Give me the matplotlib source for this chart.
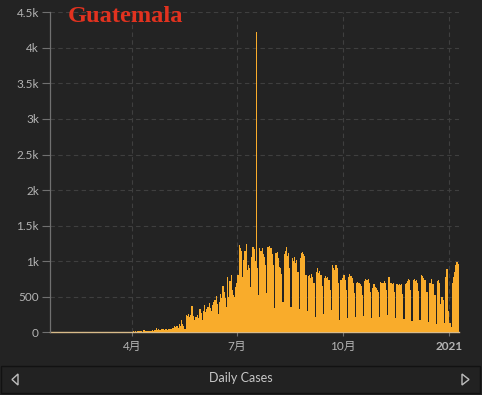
import matplotlib
matplotlib.use('Agg')
import matplotlib.pyplot as plt
import matplotlib.dates as mdates
from matplotlib.patches import Polygon, Rectangle
import pandas as pd

# ---------------- data (daily new cases, Guatemala) ----------------
START = '2020-03-13'
mar = [1, 0, 4, 2, 1, 2, 3, 4, 3, 5, 2, 4, 4, 3, 2, 5, 2, 4, 2]
apr = [11, 14, 11, 14, 9, 17, 18, 24, 16, 11, 26, 30, 17, 20, 25, 17, 15, 22, 32, 18,
       27, 66, 35, 43, 30, 28, 45, 40, 38, 41]
may = [45, 38, 52, 40, 48, 60, 55, 84, 70, 90, 62, 110, 95, 178, 120, 88, 40, 250, 235, 260,
       220, 240, 370, 230, 180, 210, 215, 240, 200, 333, 270]
jun = [180, 300, 390, 280, 330, 350, 412, 337, 300, 380, 420, 450, 506, 400, 260, 427, 544, 480,
       647, 560, 480, 350, 778, 497, 720, 800, 590, 520, 500, 640]
jul = [690, 800, 1224, 1180, 1150, 778, 1020, 1150, 1247, 872, 950, 900, 637, 1059, 1200, 1170,
       1000, 4230, 900, 520, 1180, 1150, 1190, 1100, 1059, 950, 548, 1200, 1210, 1180, 1190]
aug = [1100, 950, 337, 1110, 1130, 1050, 920, 900, 820, 427, 1100, 1150, 1200, 1080, 1110, 900,
       356, 1040, 1000, 1060, 980, 1020, 850, 330, 1050, 1120, 1130, 1100, 1080, 800, 300]
sep = [790, 800, 760, 820, 780, 700, 215, 850, 900, 830, 860, 800, 650, 260, 760, 790, 770, 780,
       740, 600, 320, 942, 900, 880, 942, 900, 700, 169, 730, 740]
oct_ = [760, 800, 730, 600, 200, 780, 825, 790, 760, 700, 550, 220, 690, 708, 700, 680, 650, 520,
        230, 720, 745, 740, 755, 700, 560, 200, 620, 685, 640, 630, 600]
nov = [560, 210, 708, 690, 700, 720, 690, 600, 250, 778, 690, 700, 680, 690, 560, 200, 675, 660,
       680, 670, 675, 540, 190, 685, 700, 720, 745, 730, 600, 160]
dec = [740, 745, 720, 731, 700, 580, 180, 800, 790, 760, 740, 730, 560, 150, 690, 700, 745, 680,
       675, 520, 120, 715, 730, 700, 400, 500, 450, 130, 780, 886, 895]
jan21 = [300, 126, 75, 700, 775, 850, 950, 989, 960]

values = mar + apr + may + jun + jul + aug + sep + oct_ + nov + dec + jan21
dates = pd.date_range(START, periods=len(values), freq='D')

xtick_dates = ['2020-04-01', '2020-07-01', '2020-10-01', '2021-01-01']
xtick_labels = ['4月', '7月', '10月', '2021']
ytick_vals = [0, 500, 1000, 1500, 2000, 2500, 3000, 3500, 4000, 4500]
ytick_labels = ['0', '500', '1k', '1.5k', '2k', '2.5k', '3k', '3.5k', '4k', '4.5k']
title = 'Guatemala'
footer = 'Daily Cases'

# ---------------- style ----------------
BG = '#232323'
BAR = '#F9AC2B'
TXT = '#b4b4b4'
plt.rcParams['font.family'] = ['Lato', 'Noto Sans CJK SC', 'DejaVu Sans']

W, H = 482, 395
fig = plt.figure(figsize=(W / 100, H / 100), dpi=100, facecolor=BG)
ax = fig.add_axes([50 / W, (H - 332.3) / H, 409 / W, 320 / H])
ax.set_facecolor(BG)

ax.bar(dates, values, width=1.0, color=BAR, linewidth=0, align='center', zorder=2)

origin = mdates.date2num(pd.Timestamp('2020-01-22'))
ax.set_xlim(origin - 1.2, origin + 353.8)
ax.set_ylim(0, 4500)

ax.set_yticks(ytick_vals)
ax.set_yticklabels(ytick_labels)
ax.set_xticks([mdates.date2num(pd.Timestamp(d)) for d in xtick_dates])
ax.set_xticklabels(xtick_labels)
ax.get_xticklabels()[-1].set_fontweight('bold')

ax.set_axisbelow(True)
ax.grid(True, color='#3f3f3f', linestyle=(0, (4, 3)), linewidth=0.8, zorder=0)

for s in ['top', 'right']:
    ax.spines[s].set_visible(False)
ax.spines['left'].set_color('#707070')
ax.spines['left'].set_linewidth(0.9)
ax.spines['bottom'].set_color('#d8bb8a')
ax.spines['bottom'].set_linewidth(1.0)
ax.spines['bottom'].set_zorder(1)

ax.tick_params(axis='y', length=6, width=0.8, color='#707070', labelcolor=TXT,
               labelsize=8.5, pad=2)
ax.tick_params(axis='x', length=3, width=0.8, color='#707070', labelcolor=TXT,
               labelsize=8.5, pad=3)

# title
fig.text(68 / W, 1 - 16.5 / H, title, family='Liberation Serif', weight='bold',
         color='#e2321f', fontsize=17.6, ha='left', va='center')

# bottom panel
fig.patches.append(Rectangle((1 / W, (H - 392.7) / H), 479 / W, 27 / H,
                             transform=fig.transFigure, facecolor='#222222',
                             edgecolor='#121212', linewidth=1.0, zorder=0))
fig.text(241 / W, 1 - 378.5 / H, footer, color='#c8c8c8', fontsize=9,
         ha='center', va='center')

def fp(x, y):
    return (x / W, 1 - y / H)

fig.patches.append(Polygon([fp(18, 374), fp(12, 379.5), fp(18, 385)], closed=True,
                           fill=False, edgecolor='#bdbdbd', linewidth=1.0,
                           transform=fig.transFigure))
fig.patches.append(Polygon([fp(462, 374), fp(469, 379.5), fp(462, 385)], closed=True,
                           fill=False, edgecolor='#bdbdbd', linewidth=1.0,
                           transform=fig.transFigure))

fig.savefig('out.png', dpi=100, facecolor=BG)
